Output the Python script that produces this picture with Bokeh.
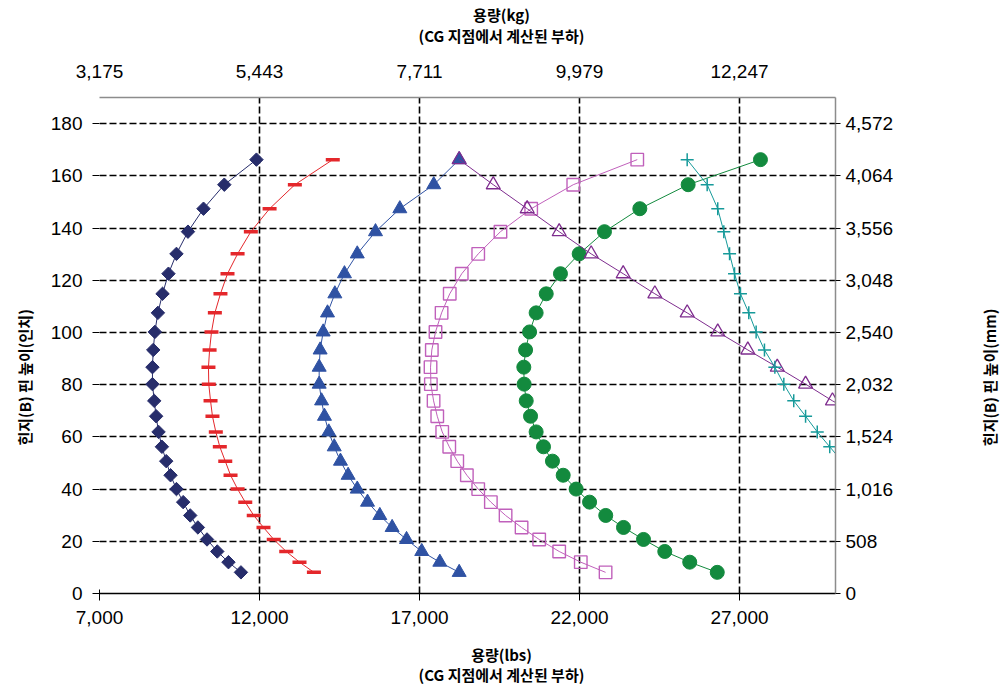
import math
from bokeh.plotting import figure
from bokeh.models import Range1d, LinearAxis, FixedTicker, NumeralTickFormatter
from bokeh.layouts import row, column
from bokeh.core.properties import value
from bokeh.embed import file_html
from bokeh.resources import INLINE

# ---------------- data ----------------
heights_in = [8.1, 12.0, 16.1, 20.7, 25.3, 29.9, 35.0, 40.0, 45.3, 50.7, 56.2, 61.9, 67.9,
              73.8, 80.2, 86.7, 93.3, 100.2, 107.5, 114.8, 122.5, 130.1, 138.6, 147.4, 156.6, 166.2]

load_diamond = [11420, 11030, 10680, 10360, 10075, 9835, 9615, 9405, 9220, 9085, 8950, 8845, 8770,
                8710, 8655, 8655, 8680, 8730, 8825, 8970, 9155, 9405, 9765, 10250, 10900, 11905]
load_dash = [13700, 13250, 12835, 12445, 12125, 11820, 11555, 11315, 11095, 10930, 10760, 10635, 10530,
             10470, 10415, 10405, 10440, 10500, 10605, 10780, 11000, 11315, 11730, 12315, 13105, 14290]
load_triangle = [18240, 17635, 17070, 16595, 16145, 15760, 15375, 15055, 14770, 14530, 14335, 14165, 14030,
                 13940, 13865, 13865, 13895, 13990, 14125, 14355, 14655, 15055, 15625, 16385, 17445, 18240]
load_square = [22815, 22040, 21365, 20740, 20190, 19690, 19230, 18835, 18480, 18180, 17930, 17710, 17555,
               17440, 17355, 17345, 17385, 17500, 17690, 17945, 18320, 18835, 19530, 20490, 21805, 23805]
load_circle = [26305, 25445, 24665, 24000, 23375, 22820, 22315, 21895, 21490, 21155, 20875, 20645, 20470,
               20335, 20270, 20260, 20315, 20440, 20645, 20960, 21405, 21990, 22780, 23885, 25395, 27655]
heights_open_tri = heights_in[12:]
load_open_tri = [30800, 29905, 29065, 28180, 27260, 26320, 25365, 24355, 23365, 22365, 21365, 20365, 19305, 18240]
heights_cross = heights_in[9:]
load_cross = [30200, 29820, 29430, 29065, 28695, 28385, 28105, 27780, 27520, 27290, 27030, 26845, 26690,
              26510, 26320, 25990, 25365]

x_ticks_lbs = [7000, 12000, 17000, 22000, 27000]
x_ticks_kg_labels = ["3,175", "5,443", "7,711", "9,979", "12,247"]
y_ticks_in = [0, 20, 40, 60, 80, 100, 120, 140, 160, 180]
y_ticks_mm_labels = ["0", "508", "1,016", "1,524", "2,032", "2,540", "3,048", "3,556", "4,064", "4,572"]

title_x_bottom = "용량(lbs)"
title_x_top = "용량(kg)"
title_x_sub = "(CG 지점에서 계산된 부하)"
title_y_left = "힌지(B) 핀 높이(인치)"
title_y_right = "힌지(B) 핀 높이(mm)"
side_title_height_in = 82.8   # where the side titles sit along the height axis

# ---------------- layout constants (pixels) ----------------
W = 1003
TOP_H, BOTTOM_H = 50, 45
MID_H = 685 - TOP_H - BOTTOM_H
BORDER_TOP, BORDER_BOTTOM = 47, 47
LEFT_W, MAIN_W, RIGHT_W = 40, 935, 28

TICK_FONT = "Liberation Sans"
TICK_SIZE = "19px"
TFONT = "Noto Sans CJK KR"
TSIZE = "15px"

# ---------------- main figure ----------------
p = figure(width=MAIN_W, height=MID_H, output_backend="svg", toolbar_location=None, title_location=None,
           x_range=Range1d(7000, 30000), y_range=Range1d(0, 190),
           min_border_left=59, min_border_right=140, min_border_top=BORDER_TOP,
           min_border_bottom=BORDER_BOTTOM)
p.outline_line_color = None
p.background_fill_color = "white"
p.border_fill_color = "white"


def style_ticks(ax, tick_in, tick_out, standoff):
    ax.major_tick_in = tick_in
    ax.major_tick_out = tick_out
    ax.major_tick_line_color = "black"
    ax.minor_tick_line_color = None
    ax.major_label_standoff = standoff
    ax.major_label_text_font = TICK_FONT
    ax.major_label_text_font_size = TICK_SIZE
    ax.major_label_text_color = "black"


# bottom axis (lbs)
xa = p.xaxis[0]
xa.ticker = FixedTicker(ticks=x_ticks_lbs)
xa.formatter = NumeralTickFormatter(format="0,0")
xa.axis_line_color = "black"
xa.axis_line_width = 1.5
style_ticks(xa, 4, 7, 10)

# left axis (inches)
ya = p.yaxis[0]
ya.ticker = FixedTicker(ticks=y_ticks_in)
ya.axis_line_color = None
style_ticks(ya, 0, 7, 10)

# top axis (kg)
top = LinearAxis(ticker=FixedTicker(ticks=x_ticks_lbs),
                 major_label_overrides={t: l for t, l in zip(x_ticks_lbs, x_ticks_kg_labels)})
top.axis_line_color = "#8c8c8c"
top.axis_line_width = 1.5
style_ticks(top, 0, 0, 20)
p.add_layout(top, "above")

# right axis (mm)
right = LinearAxis(ticker=FixedTicker(ticks=y_ticks_in),
                   major_label_overrides={t: l for t, l in zip(y_ticks_in, y_ticks_mm_labels)})
right.axis_line_color = "#8c8c8c"
right.axis_line_width = 1.5
style_ticks(right, 0, 5, 5)
p.add_layout(right, "right")

# grids
p.xgrid.ticker = FixedTicker(ticks=x_ticks_lbs)
p.ygrid.ticker = FixedTicker(ticks=y_ticks_in)
for g in (p.xgrid[0], p.ygrid[0]):
    g.grid_line_color = "black"
    g.grid_line_width = 1.6
    g.grid_line_dash = "7 3"

# ---------------- series ----------------
NAVY = "#272d6b"
RED = "#e4272b"
BLUE = "#2f52a3"
PURPLE = "#7e2c8e"
PINK = "#c060bb"
GREEN = "#138a3e"
TEAL = "#169a9a"

p.line(load_diamond, heights_in, line_color=NAVY, line_width=1)
p.scatter(load_diamond, heights_in, marker="square", angle=math.pi / 4, size=9.5,
          fill_color=NAVY, line_color=NAVY)

p.line(load_dash, heights_in, line_color=RED, line_width=1)
p.scatter(load_dash, heights_in, marker="dash", size=14, line_color=RED, line_width=3.5)

p.line(load_triangle, heights_in, line_color=BLUE, line_width=1)
p.scatter(load_triangle, heights_in, marker="triangle", size=14, fill_color=BLUE, line_color=BLUE)

p.line(load_square, heights_in, line_color=PINK, line_width=1)
p.scatter(load_square, heights_in, marker="square", size=12.5, fill_color=None,
          line_color=PINK, line_width=1.4)

p.line(load_circle, heights_in, line_color=GREEN, line_width=1)
p.scatter(load_circle, heights_in, marker="circle", size=14, fill_color=GREEN, line_color=GREEN)

p.line(load_open_tri, heights_open_tri, line_color=PURPLE, line_width=1)
p.scatter(load_open_tri, heights_open_tri, marker="triangle", size=14, fill_color=None,
          line_color=PURPLE, line_width=1.3)

p.line(load_cross, heights_cross, line_color=TEAL, line_width=1)
p.scatter(load_cross, heights_cross, marker="cross", size=13, line_color=TEAL, line_width=1.5)


# ---------------- title strips ----------------
def blank_strip(width, height, y_range, border_top=0, border_bottom=0):
    s = figure(width=width, height=height, output_backend="svg", toolbar_location=None,
               title_location=None, x_range=Range1d(0, 1), y_range=y_range,
               x_axis_location=None, y_axis_location=None,
               min_border_left=0, min_border_right=0, min_border_top=border_top,
               min_border_bottom=border_bottom)
    s.outline_line_color = None
    s.grid.visible = False
    s.background_fill_color = "white"
    s.border_fill_color = "white"
    return s


def put_text(s, xs, ys, texts, angle=0.0):
    s.text(x=xs, y=ys, text=texts, angle=angle,
           text_align="center", text_baseline="middle", text_color="black",
           text_font=value(TFONT), text_font_size=value(TSIZE), text_font_style="bold")


# horizontal titles: fractions of each strip (x from left, y from bottom)
top_strip = blank_strip(W, TOP_H, Range1d(0, 1))
put_text(top_strip, [0.4995, 0.4995], [1 - 14 / TOP_H, 1 - 34.5 / TOP_H], [title_x_top, title_x_sub])

bottom_strip = blank_strip(W, BOTTOM_H, Range1d(0, 1))
put_text(bottom_strip, [0.4995, 0.4995], [1 - 13.5 / BOTTOM_H, 1 - 33.5 / BOTTOM_H], [title_x_bottom, title_x_sub])

# vertical titles share the main height axis
left_strip = blank_strip(LEFT_W, MID_H, p.y_range, BORDER_TOP, BORDER_BOTTOM)
put_text(left_strip, [0.6], [side_title_height_in], [title_y_left], math.pi / 2)

right_strip = blank_strip(RIGHT_W, MID_H, p.y_range, BORDER_TOP, BORDER_BOTTOM)
put_text(right_strip, [0.5], [side_title_height_in], [title_y_right], math.pi / 2)

layout = column(top_strip, row(left_strip, p, right_strip), bottom_strip)
open("out.html", "w").write(file_html(layout, INLINE))
